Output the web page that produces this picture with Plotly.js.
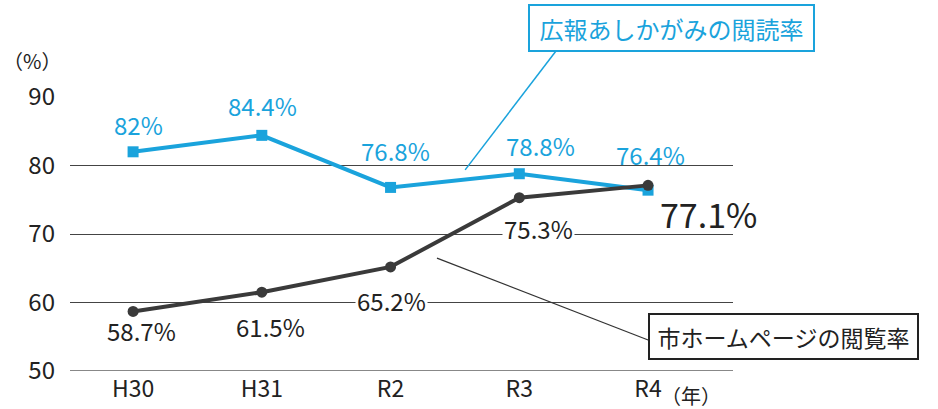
<!DOCTYPE html>
<html><head><meta charset="utf-8">
<script src="https://cdn.plot.ly/plotly-3.0.1.min.js"></script>
<style>html,body{margin:0;padding:0;background:#fff;}#chart{width:938px;height:409px;}</style>
</head><body><div id="chart"></div>
<script>
const categories = ["H30", "H31", "R2", "R3", "R4"];
const magazineRate = [82, 84.4, 76.8, 78.8, 76.4];
const webRate = [58.7, 61.5, 65.2, 75.3, 77.1];
const magazineName = "広報あしかがみの閲読率";
const webName = "市ホームページの閲覧率";
const yTicks = [50, 60, 70, 80, 90];

const BLUE = "#1aa3dc", DARK = "#3a3a3a";
const FONT = "Noto Sans CJK JP, Noto Sans, sans-serif";
const xs = categories.map((c, i) => i);

const traces = [
  {x: xs, y: magazineRate, mode: "lines+markers", name: magazineName,
   line: {color: BLUE, width: 4}, marker: {symbol: "square", size: 11, color: BLUE}, cliponaxis: false},
  {x: xs, y: webRate, mode: "lines+markers", name: webName,
   line: {color: DARK, width: 4}, marker: {symbol: "circle", size: 11, color: DARK}, cliponaxis: false}
];

const blueShift = [[5, 27], [1, 30], [5, 37], [21, 28], [2, 36]];
const darkShift = [[8, -19], [9, -34], [1, -34], [19, -31], [60, -28]];
const annotations = [];
magazineRate.forEach((v, i) => annotations.push({
  x: i, y: v, xref: "x", yref: "y", text: v + "%", showarrow: false,
  xanchor: "center", yanchor: "middle",
  xshift: blueShift[i][0], yshift: blueShift[i][1],
  font: {family: FONT, size: 24, color: BLUE}
}));
webRate.forEach((v, i) => {
  const last = i === webRate.length - 1;
  annotations.push({
    x: i, y: v, xref: "x", yref: "y", text: v + "%", showarrow: false,
    xanchor: "center", yanchor: "middle",
    xshift: darkShift[i][0], yshift: darkShift[i][1],
    bgcolor: (i === 2 || i === 3) ? "#ffffff" : "rgba(0,0,0,0)", borderpad: 1,
    font: {family: FONT, size: last ? 34 : 24, color: "#222"}
  });
});
annotations.push(
  {xref: "paper", yref: "paper", x: 0.907, y: 1.252, xanchor: "center", yanchor: "middle",
   text: magazineName, showarrow: false, width: 273, height: 34,
   font: {family: FONT, size: 24, color: BLUE}, bordercolor: BLUE, borderwidth: 2, borderpad: 5, bgcolor: "#fff"},
  {xref: "paper", yref: "paper", x: 1.076, y: 0.1259, xanchor: "center", yanchor: "middle",
   text: webName, showarrow: false, width: 257, height: 33,
   font: {family: FONT, size: 23, color: "#222"}, bordercolor: "#222", borderwidth: 2, borderpad: 5, bgcolor: "#fff"},
  {xref: "paper", yref: "paper", x: -0.058, y: 1.135, xanchor: "center", yanchor: "middle",
   text: "（%）", showarrow: false, font: {family: FONT, size: 20, color: "#222"}},
  {xref: "paper", yref: "paper", x: 0.937, y: -0.088, xanchor: "center", yanchor: "middle",
   text: "（年）", showarrow: false, font: {family: FONT, size: 20, color: "#222"}}
);

const layout = {
  width: 938, height: 409,
  margin: {l: 70, r: 205, t: 97, b: 38},
  paper_bgcolor: "#fff", plot_bgcolor: "#fff",
  showlegend: false,
  font: {family: FONT, color: "#222"},
  xaxis: {range: [-0.49, 4.66], tickvals: xs, ticktext: categories, showgrid: false, zeroline: false,
          showline: false, ticks: "", ticklabelstandoff: 2,
          tickfont: {family: FONT, size: 23, color: "#222"}, fixedrange: true},
  yaxis: {range: [50, 90], tickvals: yTicks, showgrid: true, gridcolor: "#444", gridwidth: 1,
          zeroline: false, showline: false, ticks: "", ticklabelstandoff: 14,
          tickfont: {family: FONT, size: 24, color: "#222"}, fixedrange: true},
  shapes: [
    {type: "line", xref: "paper", yref: "y", x0: 0, x1: 1, y0: 50, y1: 50, line: {color: "#888", width: 2}},
    {type: "line", xref: "paper", yref: "paper", x0: 0.733, y0: 1.168, x1: 0.596, y1: 0.734, line: {color: BLUE, width: 1.5}},
    {type: "line", xref: "paper", yref: "paper", x0: 0.5535, y0: 0.412, x1: 0.872, y1: 0.113, line: {color: "#333", width: 1.2}}
  ],
  annotations: annotations
};
Plotly.newPlot("chart", traces, layout, {displayModeBar: false, staticPlot: true});
</script></body></html>
